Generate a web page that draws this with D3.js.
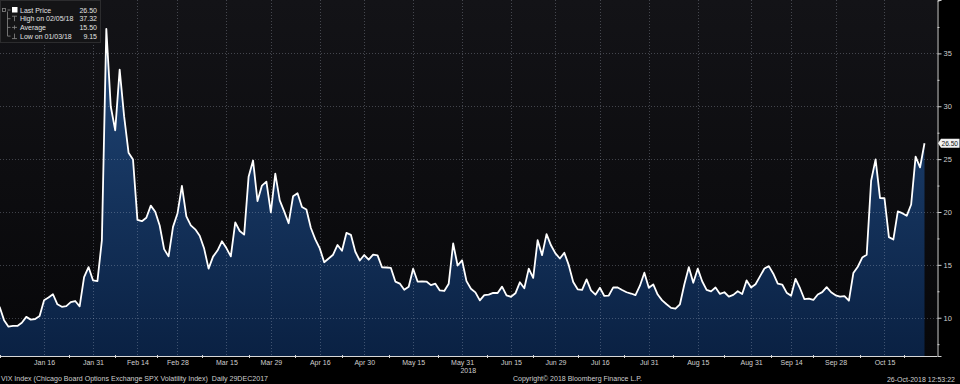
<!DOCTYPE html>
<html><head><meta charset="utf-8">
<script src="https://cdn.jsdelivr.net/npm/d3@7"></script>
<style>html,body{margin:0;padding:0;background:#000;}svg{display:block;}</style>
</head><body><svg id="c" width="960" height="384"></svg>
<script>
// VIX daily closes, 29 Dec 2017 .. 26 Oct 2018 (trading days)
const dates = ["12/29","01/02","01/03","01/04","01/05","01/08","01/09","01/10","01/11","01/12",
"01/16","01/17","01/18","01/19","01/22","01/23","01/24","01/25","01/26","01/29","01/30","01/31",
"02/01","02/02","02/05","02/06","02/07","02/08","02/09","02/12","02/13","02/14","02/15","02/16",
"02/20","02/21","02/22","02/23","02/26","02/27","02/28","03/01","03/02","03/05","03/06","03/07",
"03/08","03/09","03/12","03/13","03/14","03/15","03/16","03/19","03/20","03/21","03/22","03/23",
"03/26","03/27","03/28","03/29","04/02","04/03","04/04","04/05","04/06","04/09","04/10","04/11",
"04/12","04/13","04/16","04/17","04/18","04/19","04/20","04/23","04/24","04/25","04/26","04/27",
"04/30","05/01","05/02","05/03","05/04","05/07","05/08","05/09","05/10","05/11","05/14","05/15",
"05/16","05/17","05/18","05/21","05/22","05/23","05/24","05/25","05/29","05/30","05/31","06/01",
"06/04","06/05","06/06","06/07","06/08","06/11","06/12","06/13","06/14","06/15","06/18","06/19",
"06/20","06/21","06/22","06/25","06/26","06/27","06/28","06/29","07/02","07/03","07/05","07/06",
"07/09","07/10","07/11","07/12","07/13","07/16","07/17","07/18","07/19","07/20","07/23","07/24",
"07/25","07/26","07/27","07/30","07/31","08/01","08/02","08/03","08/06","08/07","08/08","08/09",
"08/10","08/13","08/14","08/15","08/16","08/17","08/20","08/21","08/22","08/23","08/24","08/27",
"08/28","08/29","08/30","08/31","09/04","09/05","09/06","09/07","09/10","09/11","09/12","09/13",
"09/14","09/17","09/18","09/19","09/20","09/21","09/24","09/25","09/26","09/27","09/28","10/01",
"10/02","10/03","10/04","10/05","10/08","10/09","10/10","10/11","10/12","10/15","10/16","10/17",
"10/18","10/19","10/22","10/23","10/24","10/25","10/26"];
const values = [11.04,9.77,9.15,9.22,9.22,9.52,10.08,9.82,9.88,10.16,
11.66,11.91,12.22,11.27,11.03,11.10,11.47,11.58,11.08,13.84,14.79,13.54,
13.47,17.31,37.32,29.98,27.73,33.46,29.06,25.61,24.97,19.26,19.13,19.46,
20.60,20.02,18.72,16.49,15.80,18.59,19.85,22.47,19.59,18.73,18.36,17.76,
16.54,14.64,15.78,16.35,17.23,16.59,15.80,19.02,18.20,17.86,23.34,24.87,
21.03,22.50,22.87,19.97,23.62,21.10,20.06,18.94,21.49,21.77,20.47,20.24,
18.49,17.41,16.56,15.25,15.60,15.96,16.88,16.34,18.02,17.84,16.24,15.41,
15.93,15.49,15.97,15.90,14.77,14.75,14.71,13.42,13.23,12.65,12.93,14.63,
13.42,13.43,13.42,13.08,13.22,12.58,12.53,13.22,17.02,14.94,15.43,13.46,
12.74,12.40,11.64,12.13,12.18,12.35,12.34,12.94,12.12,11.98,12.31,13.35,
12.79,14.64,13.77,17.33,15.92,17.91,16.85,16.09,15.60,16.14,14.97,13.37,
12.69,12.64,13.63,12.58,12.18,12.83,12.06,12.10,12.87,12.86,12.62,12.41,
12.29,12.14,13.03,14.26,12.83,13.15,12.19,11.64,11.27,10.93,10.85,11.27,
13.16,14.78,13.31,14.64,13.45,12.64,12.49,12.86,12.25,12.41,11.99,12.16,
12.50,12.25,13.53,12.86,13.16,13.91,14.65,14.88,14.16,13.22,13.14,12.37,
12.07,13.68,12.79,11.75,11.80,11.68,12.20,12.42,12.89,12.41,12.12,12.00,
12.05,11.61,14.22,14.82,15.69,15.95,22.96,24.98,21.31,21.30,17.62,17.40,
20.06,19.89,19.64,20.71,25.23,24.22,26.50];
const xTickLabels = ["Jan 16","Jan 31","Feb 14","Feb 28","Mar 15","Mar 29","Apr 16","Apr 30","May 15","May 31",
"Jun 15","Jun 29","Jul 16","Jul 31","Aug 15","Aug 31","Sep 14","Sep 28","Oct 15"];
const xTickIndex = [10,21,31,40,51,61,72,82,93,104,115,125,135,146,157,169,178,188,199];
const yTicks = [10,15,20,25,30,35];
const yMinorTicks = [7.5,12.5,17.5,22.5,27.5,32.5,37.5,40];
const legendLabels = ["Last Price","High on 02/05/18","Average","Low on 01/03/18"];
const legendValues = ["26.50","37.32","15.50","9.15"];
const lastPrice = "26.50";
const footerLeft = "VIX Index (Chicago Board Options Exchange SPX Volatility Index)  Daily 29DEC2017";
const footerMid = "Copyright\u00A9 2018 Bloomberg Finance L.P.";
const footerRight = "26-Oct-2018 12:53:22";
const yearLabel = "2018";

const svg = d3.select("#c");
const FONT = "'Liberation Sans', Arial, sans-serif";
const axisX = 937, axisY = 356;
const x = d3.scaleLinear().domain([0, values.length - 1]).range([-0.4, 924.5]);
const y = d3.scaleLinear().domain([6.38, 40.05]).range([axisY, 0]);

const defs = svg.append("defs");
const bg = defs.append("linearGradient").attr("id","bg").attr("x1",0).attr("x2",0).attr("y1",0).attr("y2",1);
bg.append("stop").attr("offset",0).attr("stop-color","#131317");
bg.append("stop").attr("offset",1).attr("stop-color","#070709");
const ag = defs.append("linearGradient").attr("id","ag").attr("gradientUnits","userSpaceOnUse")
  .attr("x1",0).attr("x2",0).attr("y1",0).attr("y2",axisY);
ag.append("stop").attr("offset",0).attr("stop-color","#22497b");
ag.append("stop").attr("offset",1).attr("stop-color","#0a2143");

svg.append("rect").attr("width",960).attr("height",384).attr("fill","#000");
svg.append("rect").attr("x",0).attr("y",0).attr("width",axisX).attr("height",axisY).attr("fill","url(#bg)");

// area
const area = d3.area().x((d,i)=>x(i)).y0(axisY).y1(d=>y(d));
svg.append("path").datum(values).attr("d",area).attr("fill","url(#ag)");

// grid
const grid = svg.append("g").attr("stroke","rgba(200,210,225,0.28)").attr("stroke-width",1).attr("stroke-dasharray","1,2");
grid.selectAll("line.h").data(yTicks).join("line").attr("class","h")
  .attr("x1",0).attr("x2",axisX).attr("y1",d=>Math.round(y(d))+0.5).attr("y2",d=>Math.round(y(d))+0.5);
grid.selectAll("line.v").data(xTickIndex).join("line").attr("class","v")
  .attr("x1",d=>Math.round(x(d))+0.5).attr("x2",d=>Math.round(x(d))+0.5).attr("y1",0).attr("y2",axisY);

// line
const line = d3.line().x((d,i)=>x(i)).y(d=>y(d));
svg.append("path").datum(values).attr("d",line).attr("fill","none")
  .attr("stroke","#fff").attr("stroke-width",1.8).attr("stroke-linejoin","round");

// right axis
const ra = svg.append("g").attr("transform",`translate(${axisX+0.5},0)`)
  .call(d3.axisRight(y).tickValues(yTicks).tickSize(4).tickPadding(2).tickFormat(d3.format("d")));
ra.select(".domain").attr("stroke","#cfcfcf");
ra.selectAll(".tick line").attr("stroke","#cfcfcf");
ra.selectAll(".tick text").attr("fill","#cfcfcf").style("font-family",FONT).style("font-size","7.5px");
const rm = svg.append("g").attr("transform",`translate(${axisX+0.5},0)`)
  .call(d3.axisRight(y).tickValues(yMinorTicks).tickSize(2).tickFormat(""));
rm.select(".domain").remove();
rm.selectAll(".tick line").attr("stroke","#cfcfcf");

// bottom axis
svg.append("line").attr("x1",0).attr("x2",axisX+0.5).attr("y1",axisY+0.5).attr("y2",axisY+0.5).attr("stroke","#d8d8d8");
const ba = svg.append("g").attr("transform",`translate(0,${axisY+0.5})`)
  .call(d3.axisBottom(x).tickValues(xTickIndex).tickSize(0).tickPadding(4).tickFormat((d,i)=>xTickLabels[i]));
ba.select(".domain").remove();
ba.selectAll(".tick text").attr("fill","#cfcfcf").style("font-family",FONT).style("font-size","7px");
const mids = [0].concat(xTickIndex.slice(1).map((d,i)=>(d + xTickIndex[i]) / 2), [(199+208)/2]);
svg.append("g").selectAll("line").data(mids).join("line")
  .attr("x1",d=>Math.round(x(d))+0.5).attr("x2",d=>Math.round(x(d))+0.5)
  .attr("y1",axisY-1).attr("y2",axisY+2).attr("stroke","#d8d8d8");
svg.append("text").attr("x",x(104)+14).attr("y",373).attr("text-anchor","end")
  .attr("fill","#cfcfcf").style("font-family",FONT).style("font-size","7px").text(yearLabel);

// last price tag
const ly = y(+lastPrice);
svg.append("path").attr("d",`M${axisX+1},${ly} L${axisX+4},${ly-4.5} L959.5,${ly-4.5} L959.5,${ly+4.5} L${axisX+4},${ly+4.5} Z`)
  .attr("fill","#f2f2f2");
svg.append("text").attr("x",941.5).attr("y",ly+2.6).attr("fill","#111")
  .attr("textLength",16.5).attr("lengthAdjust","spacingAndGlyphs")
  .style("font-family",FONT).style("font-size","7.5px").text(lastPrice);

// legend
const lg = svg.append("g");
lg.append("rect").attr("x",0.5).attr("y",0.5).attr("width",100).attr("height",42)
  .attr("fill","#141416").attr("stroke","#2c2c2e");
const rowY = [10, 18.7, 27.4, 36.1];
lg.selectAll("text.l").data(legendLabels).join("text").attr("class","l")
  .attr("x",20).attr("y",(d,i)=>rowY[i]+2.6).attr("fill","#e2e2e2")
  .style("font-family",FONT).style("font-size","7px").text(d=>d);
lg.selectAll("text.v").data(legendValues).join("text").attr("class","v")
  .attr("x",97).attr("y",(d,i)=>rowY[i]+2.6).attr("text-anchor","end").attr("fill","#e2e2e2")
  .style("font-family",FONT).style("font-size","7px").text(d=>d);
const tg = lg.append("g").attr("stroke","#8a8a8a").attr("fill","none").attr("stroke-width",0.8);
tg.append("rect").attr("x",2.5).attr("y",8.5).attr("width",3).attr("height",3);
tg.append("line").attr("x1",7.5).attr("x2",7.5).attr("y1",11.5).attr("y2",rowY[3]);
rowY.forEach(r=>tg.append("line").attr("x1",7.5).attr("x2",10.5).attr("y1",r).attr("y2",r));
lg.append("rect").attr("x",12).attr("y",7).attr("width",5.5).attr("height",5.5).attr("fill","#fff");
tg.append("line").attr("x1",12).attr("x2",17).attr("y1",rowY[1]-2.5).attr("y2",rowY[1]-2.5);
tg.append("line").attr("x1",14.5).attr("x2",14.5).attr("y1",rowY[1]-2.5).attr("y2",rowY[1]+2.5);
tg.append("line").attr("x1",12).attr("x2",17).attr("y1",rowY[2]).attr("y2",rowY[2]);
tg.append("line").attr("x1",14.5).attr("x2",14.5).attr("y1",rowY[2]-2).attr("y2",rowY[2]+2);
tg.append("line").attr("x1",12).attr("x2",17).attr("y1",rowY[3]+2.5).attr("y2",rowY[3]+2.5);
tg.append("line").attr("x1",14.5).attr("x2",14.5).attr("y1",rowY[3]-2.5).attr("y2",rowY[3]+2.5);

// footer
const ft = svg.append("g").attr("fill","#cfcfcf").style("font-family",FONT).style("font-size","7px");
ft.append("text").attr("x",1).attr("y",381).attr("xml:space","preserve")
  .attr("textLength",267).attr("lengthAdjust","spacingAndGlyphs").text(footerLeft);
ft.append("text").attr("x",513).attr("y",381).attr("textLength",129).attr("lengthAdjust","spacingAndGlyphs").text(footerMid);
ft.append("text").attr("x",955).attr("y",381.5).attr("text-anchor","end").text(footerRight);
</script>
</body></html>
